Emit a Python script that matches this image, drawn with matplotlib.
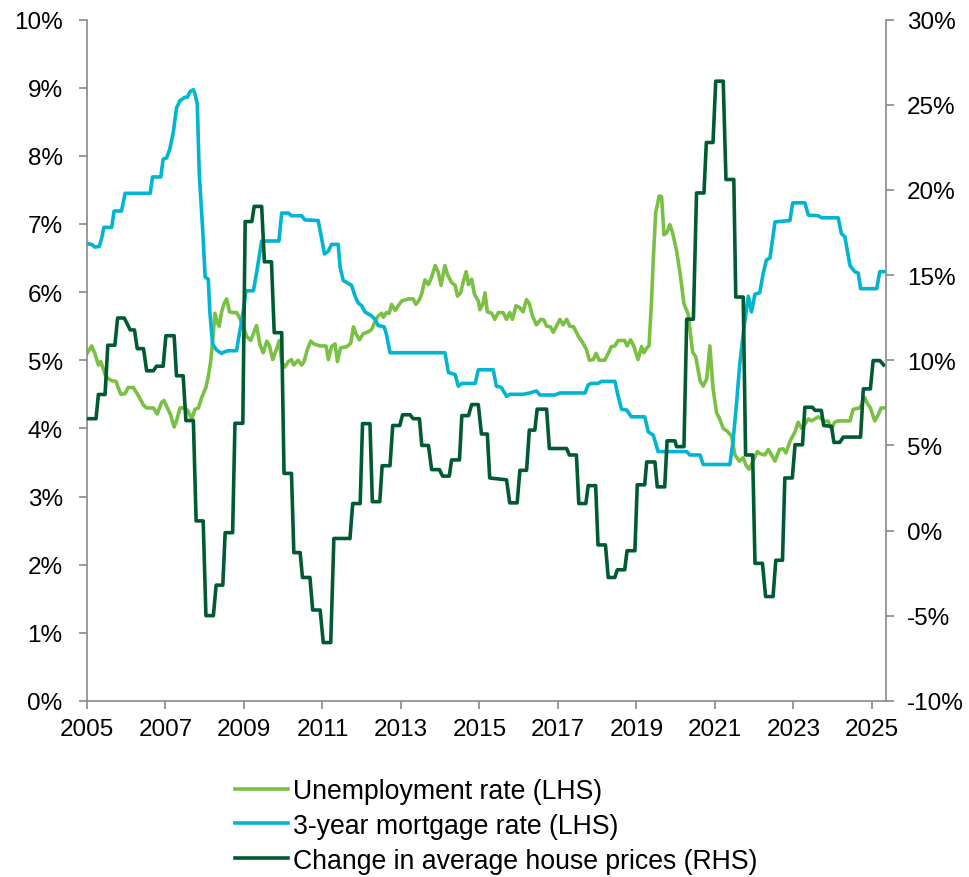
import matplotlib
matplotlib.use("Agg")
import matplotlib.pyplot as plt
from matplotlib.ticker import FixedLocator

plt.rcParams['font.family'] = ['Liberation Sans', 'DejaVu Sans']
plt.rcParams['axes.unicode_minus'] = False

# ---------------- data ----------------
unemp_years = [2005.00, 2005.12, 2005.20, 2005.29, 2005.35, 2005.40, 2005.46, 2005.54, 2005.63, 2005.74,
               2005.80, 2005.86, 2005.97, 2006.05, 2006.18, 2006.31, 2006.44, 2006.52, 2006.69, 2006.79,
               2006.90, 2006.96, 2007.05, 2007.13, 2007.22, 2007.28, 2007.37, 2007.45, 2007.56, 2007.67,
               2007.75, 2007.84, 2007.92, 2008.03, 2008.09, 2008.15, 2008.20, 2008.26, 2008.32, 2008.37,
               2008.43, 2008.49, 2008.56, 2008.63, 2008.71, 2008.81, 2008.88, 2008.98, 2009.07, 2009.17,
               2009.24, 2009.32, 2009.41, 2009.49, 2009.58, 2009.65, 2009.73, 2009.82, 2009.90, 2009.96,
               2010.04, 2010.13, 2010.21, 2010.27, 2010.38, 2010.47, 2010.53, 2010.61, 2010.70, 2010.78,
               2010.94, 2011.09, 2011.15, 2011.23, 2011.32, 2011.38, 2011.46, 2011.62, 2011.72, 2011.79,
               2011.85, 2011.94, 2012.04, 2012.17, 2012.25, 2012.34, 2012.42, 2012.51, 2012.55, 2012.63,
               2012.70, 2012.76, 2012.85, 2012.93, 2013.02, 2013.19, 2013.31, 2013.38, 2013.47, 2013.53,
               2013.61, 2013.70, 2013.78, 2013.87, 2013.95, 2014.02, 2014.12, 2014.19, 2014.29, 2014.38,
               2014.44, 2014.52, 2014.59, 2014.66, 2014.72, 2014.80, 2014.87, 2014.97, 2015.01, 2015.09,
               2015.14, 2015.20, 2015.31, 2015.39, 2015.48, 2015.60, 2015.69, 2015.77, 2015.84, 2015.93,
               2016.03, 2016.11, 2016.20, 2016.27, 2016.35, 2016.45, 2016.56, 2016.64, 2016.71, 2016.81,
               2016.88, 2016.98, 2017.05, 2017.13, 2017.22, 2017.30, 2017.40, 2017.52, 2017.64, 2017.73,
               2017.80, 2017.90, 2017.97, 2018.05, 2018.19, 2018.28, 2018.36, 2018.45, 2018.53, 2018.70,
               2018.76, 2018.85, 2018.93, 2019.04, 2019.13, 2019.19, 2019.26, 2019.32, 2019.38, 2019.43,
               2019.49, 2019.58, 2019.64, 2019.70, 2019.77, 2019.85, 2019.92, 2020.02, 2020.11, 2020.21,
               2020.32, 2020.43, 2020.51, 2020.62, 2020.70, 2020.79, 2020.87, 2020.95, 2021.04, 2021.12,
               2021.21, 2021.31, 2021.42, 2021.51, 2021.62, 2021.72, 2021.79, 2021.87, 2021.97, 2022.08,
               2022.14, 2022.27, 2022.36, 2022.44, 2022.53, 2022.64, 2022.74, 2022.81, 2022.91, 2023.04,
               2023.12, 2023.21, 2023.29, 2023.38, 2023.46, 2023.55, 2023.63, 2023.71, 2023.80, 2023.88,
               2023.97, 2024.05, 2024.14, 2024.44, 2024.52, 2024.69, 2024.82, 2024.88, 2024.96, 2025.07,
               2025.16, 2025.23, 2025.30]
unemp_vals = [5.10, 5.21, 5.10, 4.93, 4.98, 4.90, 4.79, 4.73, 4.70, 4.69,
              4.59, 4.50, 4.51, 4.60, 4.60, 4.48, 4.34, 4.30, 4.30, 4.21,
              4.38, 4.41, 4.30, 4.20, 4.02, 4.11, 4.30, 4.30, 4.27, 4.14,
              4.28, 4.30, 4.45, 4.60, 4.76, 4.98, 5.27, 5.69, 5.55, 5.50,
              5.71, 5.83, 5.90, 5.71, 5.70, 5.70, 5.63, 5.49, 5.35, 5.29,
              5.39, 5.51, 5.22, 5.11, 5.28, 5.21, 5.01, 5.15, 5.29, 4.98,
              4.90, 4.98, 5.01, 4.93, 5.00, 4.93, 4.98, 5.15, 5.28, 5.24,
              5.21, 5.21, 5.01, 5.20, 5.24, 4.98, 5.18, 5.20, 5.25, 5.49,
              5.39, 5.30, 5.39, 5.42, 5.45, 5.57, 5.65, 5.69, 5.63, 5.70,
              5.69, 5.82, 5.73, 5.80, 5.87, 5.90, 5.90, 5.82, 5.89, 5.98,
              6.18, 6.11, 6.22, 6.39, 6.29, 6.10, 6.39, 6.25, 6.14, 6.10,
              5.94, 5.99, 6.16, 6.30, 6.11, 6.19, 5.97, 5.87, 5.74, 5.83,
              5.99, 5.71, 5.69, 5.60, 5.70, 5.70, 5.60, 5.70, 5.60, 5.80,
              5.77, 5.71, 5.89, 5.83, 5.65, 5.52, 5.60, 5.59, 5.50, 5.49,
              5.41, 5.52, 5.60, 5.52, 5.60, 5.50, 5.49, 5.35, 5.25, 5.15,
              5.00, 5.01, 5.10, 5.00, 5.00, 5.10, 5.20, 5.21, 5.29, 5.29,
              5.21, 5.30, 5.21, 5.01, 5.20, 5.11, 5.18, 5.21, 5.83, 6.50,
              7.17, 7.41, 7.40, 6.84, 6.87, 6.99, 6.87, 6.61, 6.28, 5.83,
              5.67, 5.12, 5.05, 4.70, 4.62, 4.73, 5.21, 4.59, 4.23, 4.14,
              4.00, 3.96, 3.89, 3.61, 3.52, 3.57, 3.46, 3.40, 3.52, 3.66,
              3.63, 3.61, 3.69, 3.61, 3.52, 3.69, 3.70, 3.64, 3.81, 3.95,
              4.09, 4.00, 4.06, 4.14, 4.11, 4.14, 4.17, 4.14, 4.10, 4.11,
              3.99, 4.09, 4.11, 4.11, 4.28, 4.30, 4.45, 4.37, 4.30, 4.11,
              4.20, 4.30, 4.30]

mort_years = [2005.00, 2005.12, 2005.20, 2005.31, 2005.37, 2005.43, 2005.63, 2005.69, 2005.88, 2005.97,
              2006.61, 2006.67, 2006.88, 2006.94, 2007.03, 2007.11, 2007.20, 2007.28, 2007.37, 2007.50,
              2007.56, 2007.62, 2007.71, 2007.75, 2007.81, 2007.86, 2007.95, 2008.01, 2008.09, 2008.13,
              2008.20, 2008.30, 2008.43, 2008.49, 2008.60, 2008.81, 2008.88, 2008.98, 2009.05, 2009.24,
              2009.32, 2009.45, 2009.89, 2009.96, 2010.13, 2010.21, 2010.47, 2010.55, 2010.89, 2010.96,
              2011.05, 2011.15, 2011.23, 2011.40, 2011.45, 2011.53, 2011.62, 2011.74, 2011.83, 2011.91,
              2012.00, 2012.08, 2012.25, 2012.34, 2012.42, 2012.57, 2012.63, 2012.72, 2014.12, 2014.21,
              2014.38, 2014.46, 2014.55, 2014.89, 2014.97, 2015.35, 2015.43, 2015.56, 2015.69, 2015.77,
              2016.11, 2016.28, 2016.45, 2016.54, 2016.92, 2017.05, 2017.69, 2017.77, 2017.85, 2018.02,
              2018.11, 2018.45, 2018.53, 2018.62, 2018.75, 2018.87, 2019.21, 2019.30, 2019.43, 2019.55,
              2020.28, 2020.36, 2020.62, 2020.70, 2021.38, 2021.46, 2021.55, 2021.63, 2021.74, 2021.85,
              2021.93, 2022.02, 2022.14, 2022.23, 2022.31, 2022.40, 2022.53, 2022.91, 2022.98, 2023.29,
              2023.38, 2023.63, 2023.72, 2024.14, 2024.22, 2024.31, 2024.44, 2024.56, 2024.65, 2024.71,
              2025.12, 2025.20, 2025.30]
mort_vals = [6.71, 6.70, 6.66, 6.67, 6.78, 6.95, 6.95, 7.19, 7.19, 7.45,
             7.45, 7.69, 7.69, 7.95, 7.97, 8.10, 8.35, 8.70, 8.81, 8.86,
             8.86, 8.94, 8.97, 8.91, 8.76, 7.74, 6.89, 6.22, 6.19, 5.71,
             5.24, 5.15, 5.10, 5.12, 5.14, 5.14, 5.38, 5.71, 6.02, 6.02,
             6.28, 6.75, 6.75, 7.16, 7.16, 7.12, 7.12, 7.06, 7.05, 6.84,
             6.56, 6.60, 6.70, 6.70, 6.36, 6.17, 6.14, 6.10, 5.94, 5.84,
             5.80, 5.71, 5.65, 5.60, 5.51, 5.49, 5.38, 5.11, 5.11, 4.82,
             4.79, 4.62, 4.66, 4.66, 4.86, 4.86, 4.62, 4.60, 4.47, 4.50,
             4.50, 4.52, 4.55, 4.49, 4.49, 4.52, 4.52, 4.64, 4.66, 4.66,
             4.69, 4.69, 4.48, 4.28, 4.27, 4.17, 4.17, 3.95, 3.90, 3.66,
             3.66, 3.61, 3.61, 3.47, 3.47, 3.81, 4.37, 4.93, 5.49, 5.94,
             5.71, 5.97, 5.99, 6.28, 6.47, 6.50, 7.03, 7.05, 7.31, 7.31,
             7.13, 7.12, 7.09, 7.09, 6.86, 6.81, 6.39, 6.30, 6.28, 6.05,
             6.05, 6.30, 6.30]

hp_years = [2005.00, 2005.23, 2005.29, 2005.46, 2005.53, 2005.71, 2005.78, 2005.95, 2006.10, 2006.21,
            2006.28, 2006.44, 2006.52, 2006.69, 2006.77, 2006.94, 2007.01, 2007.22, 2007.28, 2007.45,
            2007.52, 2007.71, 2007.78, 2007.96, 2008.03, 2008.22, 2008.29, 2008.46, 2008.52, 2008.71,
            2008.77, 2008.97, 2009.03, 2009.20, 2009.26, 2009.45, 2009.52, 2009.70, 2009.77, 2009.96,
            2010.02, 2010.21, 2010.27, 2010.43, 2010.49, 2010.68, 2010.75, 2010.94, 2011.02, 2011.21,
            2011.29, 2011.70, 2011.77, 2011.96, 2012.02, 2012.21, 2012.27, 2012.46, 2012.52, 2012.72,
            2012.79, 2012.97, 2013.04, 2013.23, 2013.31, 2013.47, 2013.53, 2013.70, 2013.78, 2013.98,
            2014.06, 2014.23, 2014.29, 2014.49, 2014.55, 2014.72, 2014.80, 2014.97, 2015.05, 2015.20,
            2015.26, 2015.69, 2015.77, 2015.96, 2016.03, 2016.20, 2016.27, 2016.41, 2016.47, 2016.71,
            2016.78, 2017.22, 2017.29, 2017.47, 2017.53, 2017.71, 2017.77, 2017.96, 2018.02, 2018.21,
            2018.28, 2018.45, 2018.51, 2018.70, 2018.76, 2018.96, 2019.02, 2019.21, 2019.26, 2019.47,
            2019.53, 2019.72, 2019.78, 2019.98, 2020.02, 2020.21, 2020.28, 2020.45, 2020.53, 2020.72,
            2020.78, 2020.95, 2021.02, 2021.21, 2021.28, 2021.48, 2021.53, 2021.72, 2021.78, 2021.96,
            2022.02, 2022.21, 2022.29, 2022.48, 2022.55, 2022.72, 2022.78, 2022.97, 2023.04, 2023.23,
            2023.29, 2023.48, 2023.55, 2023.71, 2023.77, 2023.97, 2024.03, 2024.18, 2024.27, 2024.71,
            2024.78, 2024.96, 2025.03, 2025.20, 2025.30]
hp_vals = [6.57, 6.57, 7.99, 7.99, 10.88, 10.88, 12.48, 12.48, 11.78, 11.78,
           10.68, 10.68, 9.38, 9.38, 9.65, 9.65, 11.44, 11.44, 9.09, 9.09,
           6.46, 6.46, 0.57, 0.57, -4.99, -4.99, -3.20, -3.20, -0.12, -0.12,
           6.30, 6.30, 18.14, 18.14, 19.03, 19.03, 15.78, 15.78, 11.62, 11.62,
           3.36, 3.36, -1.29, -1.29, -2.75, -2.75, -4.66, -4.66, -6.57, -6.57,
           -0.46, -0.46, 1.59, 1.59, 6.28, 6.28, 1.70, 1.70, 3.81, 3.81,
           6.17, 6.17, 6.80, 6.80, 6.57, 6.57, 5.00, 5.00, 3.58, 3.58,
           3.20, 3.20, 4.15, 4.15, 6.75, 6.75, 7.40, 7.40, 5.67, 5.67,
           3.09, 2.98, 1.63, 1.63, 3.54, 3.54, 5.90, 5.90, 7.13, 7.13,
           4.82, 4.82, 4.44, 4.44, 1.59, 1.59, 2.64, 2.64, -0.84, -0.84,
           -2.75, -2.75, -2.30, -2.30, -1.18, -1.18, 2.69, 2.69, 4.03, 4.03,
           2.57, 2.57, 5.27, 5.27, 4.93, 4.93, 12.41, 12.41, 19.82, 19.82,
           22.78, 22.78, 26.38, 26.38, 20.61, 20.61, 13.71, 13.71, 4.44, 4.44,
           -1.92, -1.92, -3.87, -3.87, -1.74, -1.74, 3.09, 3.09, 5.04, 5.04,
           7.24, 7.24, 7.06, 7.06, 6.17, 6.12, 5.18, 5.18, 5.49, 5.49,
           8.32, 8.32, 9.98, 9.98, 9.72]

labels = ['Unemployment rate (LHS)', '3-year mortgage rate (LHS)', 'Change in average house prices (RHS)']
colors = ['#7AC143', '#00B5D1', '#005A32']

x_ticks = list(range(2005, 2026, 2))
left_ticks = list(range(0, 11))
right_ticks = list(range(-10, 31, 5))

# ---------------- figure ----------------
fig = plt.figure(figsize=(9.69, 8.78), dpi=100)
ax = fig.add_axes([87 / 969, 1 - 702 / 878, (885.7 - 87) / 969, (702 - 20.5) / 878])
ax2 = ax.twinx()

l1, = ax.plot(unemp_years, unemp_vals, color=colors[0], lw=2.6, solid_joinstyle='round')
l2, = ax.plot(mort_years, mort_vals, color=colors[1], lw=2.6, solid_joinstyle='round')
l3, = ax2.plot(hp_years, hp_vals, color=colors[2], lw=2.6, solid_joinstyle='round')

ax.set_xlim(2005, 2025.35)
ax.set_ylim(0, 10)
ax2.set_ylim(-10, 30)

spine_col = '#898989'
ax.xaxis.set_major_locator(FixedLocator(x_ticks))
ax.set_xticklabels([str(t) for t in x_ticks])
ax.yaxis.set_major_locator(FixedLocator(left_ticks))
ax.set_yticklabels([f'{t}%' for t in left_ticks])
ax2.yaxis.set_major_locator(FixedLocator(right_ticks))
ax2.set_yticklabels([f'{t}%' for t in right_ticks])

for a in (ax, ax2):
    a.spines['top'].set_visible(False)
    for s in a.spines.values():
        s.set_color(spine_col)
        s.set_linewidth(1.2)
    a.patch.set_visible(False)

ax.spines['right'].set_visible(False)
ax2.spines['left'].set_visible(False)
ax2.spines['bottom'].set_visible(False)

ax.tick_params(axis='x', direction='out', length=5.5, width=1.2, color=spine_col,
               labelsize=17.5, pad=7, labelcolor='black')
ax.tick_params(axis='y', direction='out', length=5.5, width=1.2, color=spine_col,
               labelsize=17.5, pad=12, labelcolor='black')
ax2.tick_params(axis='y', direction='out', length=5.5, width=1.2, color=spine_col,
                labelsize=17.5, pad=10, labelcolor='black')

fig.legend([l1, l2, l3], labels, loc='upper left', bbox_to_anchor=(235 / 969, 1 - 779 / 878),
           frameon=False, fontsize=19.2, handlelength=2.0, handletextpad=0.18,
           labelspacing=0.33, borderpad=0, borderaxespad=0)

fig.savefig('out.png', dpi=100)
